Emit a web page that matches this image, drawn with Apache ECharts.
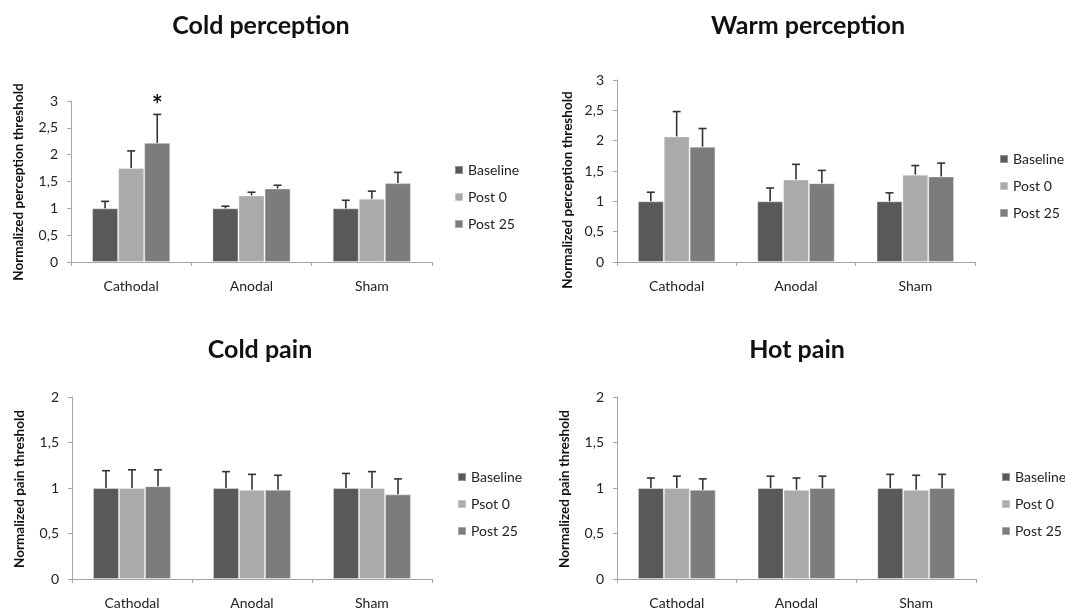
<!DOCTYPE html>
<html>
<head>
<meta charset="utf-8">
<script src="https://cdn.jsdelivr.net/npm/echarts@6/dist/echarts.min.js"></script>
<style>
html,body{margin:0;padding:0;background:#fff;}
#chart{width:1065px;height:611px;}
</style>
</head>
<body>
<div id="chart"></div>
<script>
// ---- data ----
const categories = ['Cathodal', 'Anodal', 'Sham'];
const perceptionTicks = [0, 0.5, 1, 1.5, 2, 2.5, 3];
const painTicks = [0, 0.5, 1, 1.5, 2];

// Cold perception
const coldPercBaseline = [1.00, 1.00, 1.00];
const coldPercBaselineErr = [0.13, 0.04, 0.15];
const coldPercPost0 = [1.75, 1.24, 1.18];
const coldPercPost0Err = [0.32, 0.06, 0.14];
const coldPercPost25 = [2.22, 1.37, 1.47];
const coldPercPost25Err = [0.53, 0.06, 0.20];
const coldPercPost25Sig = ['*', '', ''];

// Warm perception
const warmPercBaseline = [1.00, 1.00, 1.00];
const warmPercBaselineErr = [0.15, 0.22, 0.14];
const warmPercPost0 = [2.07, 1.36, 1.44];
const warmPercPost0Err = [0.41, 0.25, 0.15];
const warmPercPost25 = [1.90, 1.30, 1.41];
const warmPercPost25Err = [0.30, 0.21, 0.22];

// Cold pain
const coldPainBaseline = [1.00, 1.00, 1.00];
const coldPainBaselineErr = [0.19, 0.18, 0.16];
const coldPainPost0 = [1.00, 0.98, 1.00];
const coldPainPost0Err = [0.20, 0.17, 0.18];
const coldPainPost25 = [1.02, 0.98, 0.93];
const coldPainPost25Err = [0.18, 0.16, 0.17];

// Hot pain
const hotPainBaseline = [1.00, 1.00, 1.00];
const hotPainBaselineErr = [0.11, 0.13, 0.15];
const hotPainPost0 = [1.00, 0.98, 0.98];
const hotPainPost0Err = [0.13, 0.13, 0.16];
const hotPainPost25 = [0.98, 1.00, 1.00];
const hotPainPost25Err = [0.12, 0.13, 0.15];

const seriesNamesStd = ['Baseline', 'Post 0', 'Post 25'];
const seriesNamesColdPain = ['Baseline', 'Psot 0', 'Post 25'];

// ---- styling / layout ----
const FONT = 'Lato, "Open Sans", sans-serif';
const colors = ['#595959', '#aaaaaa', '#7c7c7c'];
const GAP = 0.35;

const panels = [
  { title: 'Cold perception', tx: 256, ty: 23, yName: 'Normalized perception threshold',
    grid: { left: 71, top: 101, width: 361, height: 161 }, max: 3, ticks: perceptionTicks,
    names: seriesNamesStd, nameX: 19, nameY: 182,
    legend: { left: 454, top: 163 },
    vals: [coldPercBaseline, coldPercPost0, coldPercPost25],
    errs: [coldPercBaselineErr, coldPercPost0Err, coldPercPost25Err],
    sig: [['', '', ''], ['', '', ''], coldPercPost25Sig] },
  { title: 'Warm perception', tx: 803, ty: 23, yName: 'Normalized perception threshold',
    grid: { left: 617, top: 80, width: 358, height: 182 }, max: 3, ticks: perceptionTicks,
    names: seriesNamesStd, nameX: 568, nameY: 190,
    legend: { left: 999, top: 152 },
    vals: [warmPercBaseline, warmPercPost0, warmPercPost25],
    errs: [warmPercBaselineErr, warmPercPost0Err, warmPercPost25Err],
    sig: null },
  { title: 'Cold pain', tx: 255, ty: 347, yName: 'Normalized pain threshold',
    grid: { left: 72, top: 397, width: 360, height: 182 }, max: 2, ticks: painTicks,
    names: seriesNamesColdPain, nameX: 20, nameY: 489,
    legend: { left: 457, top: 470 },
    vals: [coldPainBaseline, coldPainPost0, coldPainPost25],
    errs: [coldPainBaselineErr, coldPainPost0Err, coldPainPost25Err],
    sig: null },
  { title: 'Hot pain', tx: 792, ty: 347, yName: 'Normalized pain threshold',
    grid: { left: 617, top: 397, width: 359, height: 182 }, max: 2, ticks: painTicks,
    names: seriesNamesStd, nameX: 565, nameY: 489,
    legend: { left: 1001, top: 470 },
    vals: [hotPainBaseline, hotPainPost0, hotPainPost25],
    errs: [hotPainBaselineErr, hotPainPost0Err, hotPainPost25Err],
    sig: null }
];

const option = {
  animation: false,
  backgroundColor: '#ffffff',
  textStyle: { fontFamily: FONT },
  title: [], grid: [], xAxis: [], yAxis: [], legend: [], series: [], graphic: []
};

panels.forEach((p, pi) => {
  option.title.push({
    text: p.title, left: p.tx, top: p.ty - 15, textAlign: 'center',
    textStyle: { fontFamily: FONT, fontSize: 25, fontWeight: 'bold', color: '#111' }
  });
  option.grid.push(Object.assign({ containLabel: false }, p.grid));
  option.xAxis.push({
    type: 'category', gridIndex: pi, data: categories,
    axisLine: { lineStyle: { color: '#a6a6a6', width: 1 } },
    axisTick: { show: true, length: 4, lineStyle: { color: '#a6a6a6' } },
    axisLabel: { margin: 17, fontSize: 14, color: '#222', fontFamily: FONT }
  });
  option.yAxis.push({
    type: 'value', gridIndex: pi, min: 0, max: p.max, interval: 0.5,
    splitLine: { show: false },
    axisLine: { show: true, lineStyle: { color: '#a6a6a6', width: 1 } },
    axisTick: { show: true, length: 4, lineStyle: { color: '#a6a6a6' } },
    axisLabel: { margin: 13, fontSize: 14, color: '#222', fontFamily: FONT,
      formatter: v => String(v).replace('.', ',') }
  });
  option.legend.push({
    orient: 'vertical', left: p.legend.left, top: p.legend.top, padding: 0,
    itemWidth: 8, itemHeight: 8, itemGap: 13, icon: 'rect',
    data: p.names,
    textStyle: { fontFamily: FONT, fontSize: 14, color: '#222', lineHeight: 14 }
  });
  p.names.forEach((n, si) => {
    option.series.push({
      type: 'bar', name: n, xAxisIndex: pi, yAxisIndex: pi,
      data: p.vals[si], barGap: '0%', barCategoryGap: (GAP * 100) + '%',
      itemStyle: { color: colors[si], borderColor: 'rgba(255,255,255,0.35)', borderWidth: 1 },
      z: 2
    });
  });
  const errData = [];
  const sigList = [];
  p.vals.forEach((arr, si) => {
    arr.forEach((v, ci) => {
      errData.push([ci, si, v, p.errs[si][ci]]);
      sigList.push(p.sig ? p.sig[si][ci] : '');
    });
  });
  option.series.push({
    type: 'custom', name: 'err' + pi, xAxisIndex: pi, yAxisIndex: pi, z: 5,
    data: errData, silent: true,
    renderItem: function (params, api) {
      const ci = api.value(0), si = api.value(1), v = api.value(2), e = api.value(3);
      const band = api.size([1, 0])[0];
      const bw = band * (1 - GAP) / 3;
      const p0 = api.coord([ci, v]);
      const p1 = api.coord([ci, v + e]);
      const x = p0[0] + (si - 1) * bw;
      const st = { stroke: '#333', lineWidth: 1.6 };
      const children = [
        { type: 'line', shape: { x1: x, y1: p0[1], x2: x, y2: p1[1] }, style: st },
        { type: 'line', shape: { x1: x - 4, y1: p1[1], x2: x + 4, y2: p1[1] }, style: st }
      ];
      const s = sigList[params.dataIndex];
      if (s) {
        children.push({ type: 'text', x: x, y: p1[1] + 4,
          style: { text: s, textAlign: 'center', textVerticalAlign: 'bottom',
            font: 'bold 26px ' + FONT, fill: '#111' } });
      }
      return { type: 'group', children: children };
    }
  });
  option.graphic.push({
    type: 'text', x: p.nameX, y: p.nameY, rotation: Math.PI / 2,
    style: { text: p.yName, textAlign: 'center', textVerticalAlign: 'middle',
      font: 'bold 13.5px ' + FONT, fill: '#111' }
  });
});

const chart = echarts.init(document.getElementById('chart'), null, { renderer: 'canvas' });
chart.setOption(option);
</script>
</body>
</html>
